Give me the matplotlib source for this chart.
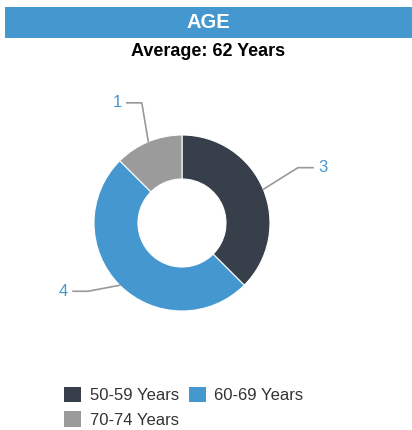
import numpy as np
import matplotlib
matplotlib.use("Agg")
import matplotlib.pyplot as plt
from matplotlib.patches import Rectangle

plt.rcParams['font.family'] = ['Liberation Sans', 'DejaVu Sans']

# Data
categories = ["50-59 Years", "60-69 Years", "70-74 Years"]
counts = [3, 4, 1]
colors = ["#37404a", "#4597d0", "#9b9b9b"]
title = "AGE"
subtitle = "Average: 62 Years"

# label connector layout tweaks (angle shift in deg, elbow radius)
label_shift = [3, -9, -4]
label_radius = [1.46, 1.32, 1.44]

W, H = 412, 430
fig = plt.figure(figsize=(W / 100, H / 100), dpi=100)

# Header bar
fig.patches.append(Rectangle((5 / W, 1 - 38 / H), 407 / W, 31 / H,
                             transform=fig.transFigure, facecolor="#4597cf",
                             edgecolor="none"))
fig.text(208 / W, 1 - 22.5 / H, title, ha="center", va="center",
         color="white", fontsize=14.5, fontweight="bold")
fig.text(208 / W, 1 - 52 / H, subtitle, ha="center", va="center",
         color="black", fontsize=13, fontweight="bold")

# Donut: centre at (182, 223) px, radius 88 px
size = 300
ax = fig.add_axes([(182 - size / 2) / W, 1 - (223 + size / 2) / H, size / W, size / H])
wedges, _ = ax.pie(counts, colors=colors, startangle=90, counterclock=False,
                   radius=1, wedgeprops=dict(width=0.5, edgecolor="white", linewidth=0.8))
lim = size / 2 / 88
ax.set_xlim(-lim, lim)
ax.set_ylim(-lim, lim)
ax.set_aspect("equal")
ax.axis("off")

# Leader lines and value labels
for w, val, sh, rr in zip(wedges, counts, label_shift, label_radius):
    mid_deg = (w.theta1 + w.theta2) / 2
    mid = np.deg2rad(mid_deg)
    x0, y0 = np.cos(mid), np.sin(mid)
    ang = np.deg2rad(mid_deg + sh)
    xe, ye = rr * np.cos(ang), rr * np.sin(ang)
    side = np.sign(x0)
    xt = xe + side * 0.17
    ax.plot([x0, xe, xt], [y0, ye, ye], color="#999999", linewidth=1.2,
            clip_on=False)
    ax.text(xt + side * 0.11, ye, str(val), ha="center", va="center",
            color="#4597cf", fontsize=12, clip_on=False)

# Legend (column-wise fill: 50-59, 70-74 | 60-69)
order = [0, 2, 1]
handles = [Rectangle((0, 0), 1, 1, facecolor=colors[i], edgecolor="none") for i in order]
leg = fig.legend(handles, [categories[i] for i in order], loc="upper left", ncol=2,
                 bbox_to_anchor=(52 / W, 1 - 375 / H), frameon=False,
                 fontsize=12, handlelength=1.05, handleheight=1.05,
                 handletextpad=0.5, columnspacing=0.6, labelspacing=0.5,
                 borderpad=0.2)
for t in leg.get_texts():
    t.set_color("#333333")

fig.savefig("out.png", dpi=100)
